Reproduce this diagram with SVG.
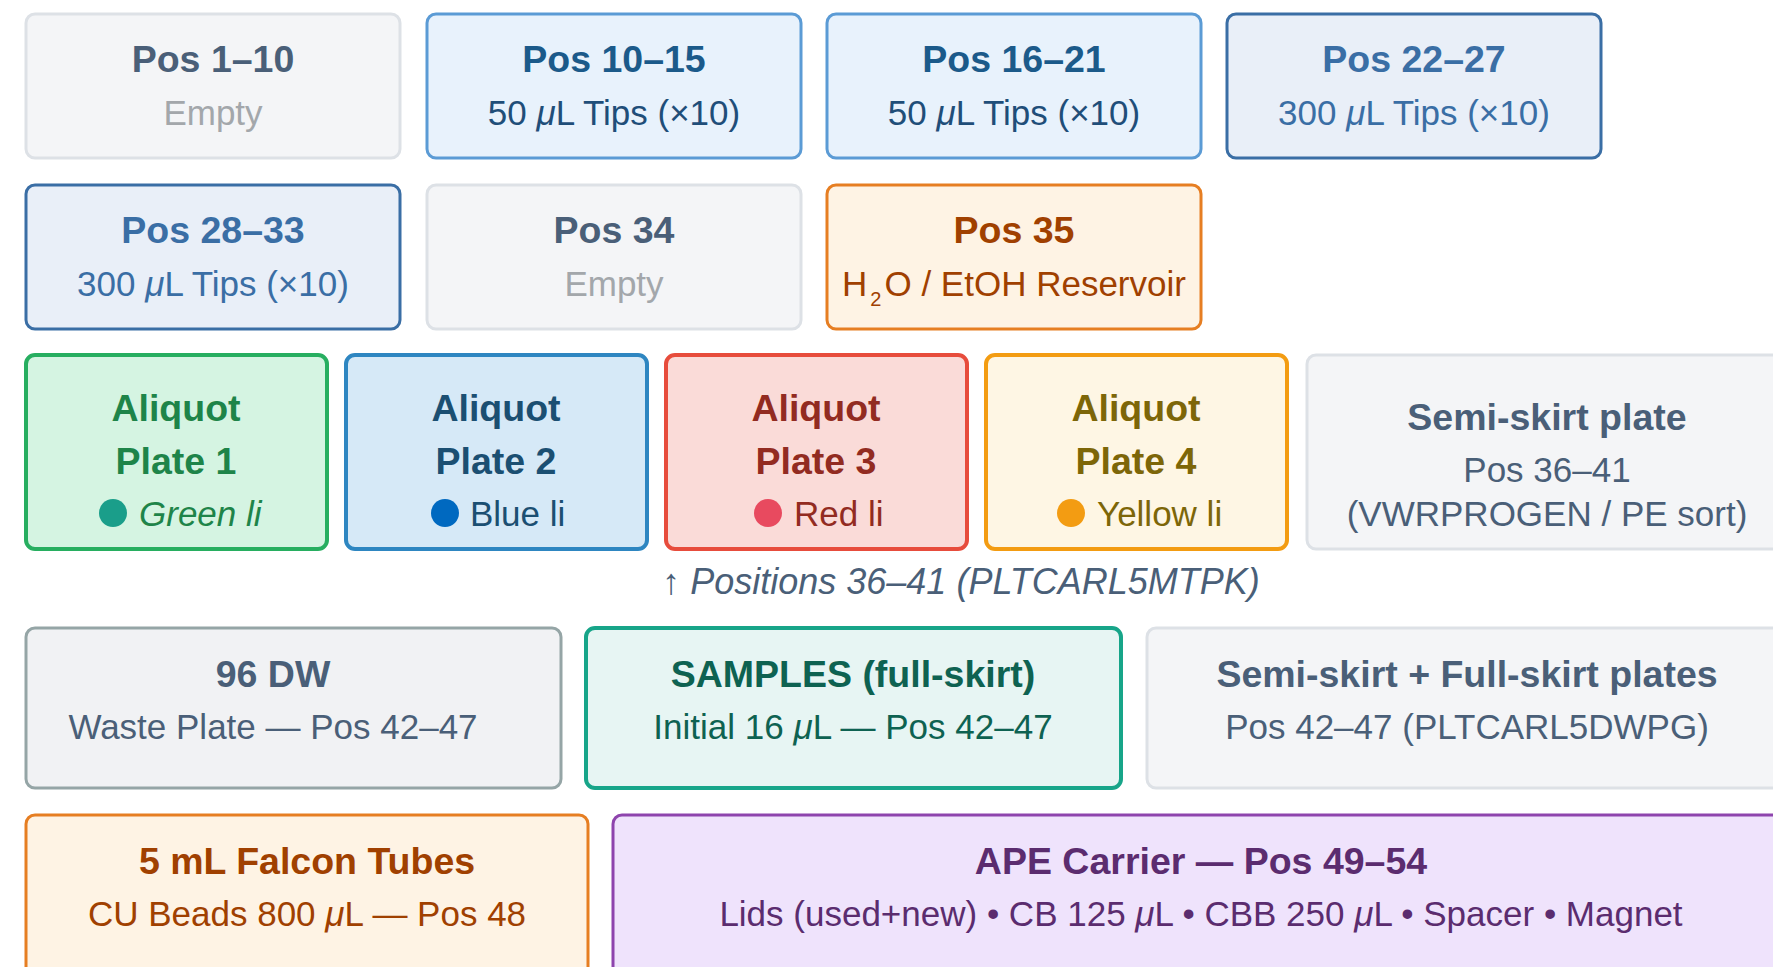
<svg xmlns="http://www.w3.org/2000/svg" width="1773" height="967" viewBox="0 0 1773 967">
<style>
text{font-family:"Liberation Sans",Arial,Helvetica,sans-serif;text-anchor:middle}
.t{font-size:37.5px;font-weight:bold}
.s{font-size:35px}
.l{text-anchor:start}
.mu{font-style:italic}
rect{rx:9px;ry:9px}
.empty rect{fill:#f4f5f7;stroke:#dde1e6;stroke-width:3}
.empty .t{fill:#4a5f78}
.empty .s{fill:#a3a7ab}
.tip50 rect{fill:#e8f2fc;stroke:#5b9bd5;stroke-width:3}
.tip50 text{fill:#1b5a8a}
.tip50 .s{fill:#1f4e79}
.tip300 rect{fill:#e9eff8;stroke:#3a6ea5;stroke-width:3}
.tip300 text{fill:#3a6ea5}
.orange rect{fill:#fef3e4;stroke:#e67e22;stroke-width:3}
.orange text{fill:#a04000}
.al1 rect{fill:#d5f4e2;stroke:#27ae60;stroke-width:4}
.al1 text{fill:#1e8449}
.al2 rect{fill:#d6e9f7;stroke:#2e86c1;stroke-width:4}
.al2 text{fill:#1b4f72}
.al3 rect{fill:#fadbd8;stroke:#e74c3c;stroke-width:4}
.al3 text{fill:#922b21}
.al4 rect{fill:#fef6e4;stroke:#f39c12;stroke-width:4}
.al4 text{fill:#7d6608}
.semi rect{fill:#f4f5f7;stroke:#dde1e6;stroke-width:3}
.semi text{fill:#4a5f78}
.dw rect{fill:#f1f2f4;stroke:#95a5a6;stroke-width:3}
.dw text{fill:#4a5f78}
.samp rect{fill:#e7f5f3;stroke:#17a589;stroke-width:4}
.samp text{fill:#0e6251}
.ape rect{fill:#efe3fc;stroke:#8e44ad;stroke-width:3}
.ape text{fill:#5b2c6f}
.cap{font-size:36px;font-style:italic;fill:#4a5f78}
</style>

<g id="pos1-10" class="empty">
<rect x="26" y="14" width="374" height="144"/>
<text class="t" x="213" y="72">Pos 1–10</text>
<text class="s" x="213" y="125">Empty</text>
</g>
<g id="pos10-15" class="tip50">
<rect x="427" y="14" width="374" height="144"/>
<text class="t" x="614" y="72">Pos 10–15</text>
<text class="s" x="614" y="125">50 <tspan class="mu">μ</tspan>L Tips (×10)</text>
</g>
<g id="pos16-21" class="tip50">
<rect x="827" y="14" width="374" height="144"/>
<text class="t" x="1014" y="72">Pos 16–21</text>
<text class="s" x="1014" y="125">50 <tspan class="mu">μ</tspan>L Tips (×10)</text>
</g>
<g id="pos22-27" class="tip300">
<rect x="1227" y="14" width="374" height="144"/>
<text class="t" x="1414" y="72">Pos 22–27</text>
<text class="s" x="1414" y="125">300 <tspan class="mu">μ</tspan>L Tips (×10)</text>
</g>

<g id="pos28-33" class="tip300">
<rect x="26" y="185" width="374" height="144"/>
<text class="t" x="213" y="243">Pos 28–33</text>
<text class="s" x="213" y="296">300 <tspan class="mu">μ</tspan>L Tips (×10)</text>
</g>
<g id="pos34" class="empty">
<rect x="427" y="185" width="374" height="144"/>
<text class="t" x="614" y="243">Pos 34</text>
<text class="s" x="614" y="296">Empty</text>
</g>
<g id="pos35" class="orange">
<rect x="827" y="185" width="374" height="144"/>
<text class="t" x="1014" y="243">Pos 35</text>
<text class="s" x="1014" y="296">H<tspan font-size="20" dx="3" dy="10">2</tspan><tspan dx="3" dy="-10">O / EtOH Reservoir</tspan></text>
</g>

<g id="aliquot1" class="al1">
<rect x="26" y="355" width="301" height="194"/>
<text class="t" x="176" y="421">Aliquot</text>
<text class="t" x="176" y="474">Plate 1</text>
<circle cx="113" cy="513" r="14" fill="#1a9e8a"/>
<text class="s l" x="139" y="526" font-style="italic">Green li</text>
</g>
<g id="aliquot2" class="al2">
<rect x="346" y="355" width="301" height="194"/>
<text class="t" x="496" y="421">Aliquot</text>
<text class="t" x="496" y="474">Plate 2</text>
<circle cx="445" cy="513" r="14" fill="#0069c0"/>
<text class="s l" x="470" y="526">Blue li</text>
</g>
<g id="aliquot3" class="al3">
<rect x="666" y="355" width="301" height="194"/>
<text class="t" x="816" y="421">Aliquot</text>
<text class="t" x="816" y="474">Plate 3</text>
<circle cx="768" cy="513" r="14" fill="#e84a5f"/>
<text class="s l" x="794" y="526">Red li</text>
</g>
<g id="aliquot4" class="al4">
<rect x="986" y="355" width="301" height="194"/>
<text class="t" x="1136" y="421">Aliquot</text>
<text class="t" x="1136" y="474">Plate 4</text>
<circle cx="1071" cy="513" r="14" fill="#f39c12"/>
<text class="s l" x="1097" y="526">Yellow li</text>
</g>
<g id="semi-skirt" class="semi">
<rect x="1307" y="355" width="480" height="194"/>
<text class="t" x="1547" y="430">Semi-skirt plate</text>
<text class="s" x="1547" y="482">Pos 36–41</text>
<text class="s" x="1547" y="526">(VWRPROGEN / PE sort)</text>
</g>

<text id="caption" class="cap" x="961" y="594">↑ Positions 36–41 (PLTCARL5MTPK)</text>

<g id="dw96" class="dw">
<rect x="26" y="628" width="535" height="160"/>
<text class="t" x="273" y="687">96 DW</text>
<text class="s" x="273" y="739">Waste Plate — Pos 42–47</text>
</g>
<g id="samples" class="samp">
<rect x="586" y="628" width="535" height="160"/>
<text class="t" x="853" y="687">SAMPLES (full-skirt)</text>
<text class="s" x="853" y="739">Initial 16 <tspan class="mu">μ</tspan>L — Pos 42–47</text>
</g>
<g id="semi-full" class="semi">
<rect x="1147" y="628" width="640" height="160"/>
<text class="t" x="1467" y="687">Semi-skirt + Full-skirt plates</text>
<text class="s" x="1467" y="739">Pos 42–47 (PLTCARL5DWPG)</text>
</g>

<g id="falcon" class="orange">
<rect x="26" y="815" width="562" height="180"/>
<text class="t" x="307" y="874">5 mL Falcon Tubes</text>
<text class="s" x="307" y="926">CU Beads 800 <tspan class="mu">μ</tspan>L — Pos 48</text>
</g>
<g id="ape" class="ape">
<rect x="613" y="815" width="1176" height="180"/>
<text class="t" x="1201" y="874">APE Carrier — Pos 49–54</text>
<text class="s" x="1201" y="926">Lids (used+new) • CB 125 <tspan class="mu">μ</tspan>L • CBB 250 <tspan class="mu">μ</tspan>L • Spacer • Magnet</text>
</g>

<g id="connectors"/>
</svg>
